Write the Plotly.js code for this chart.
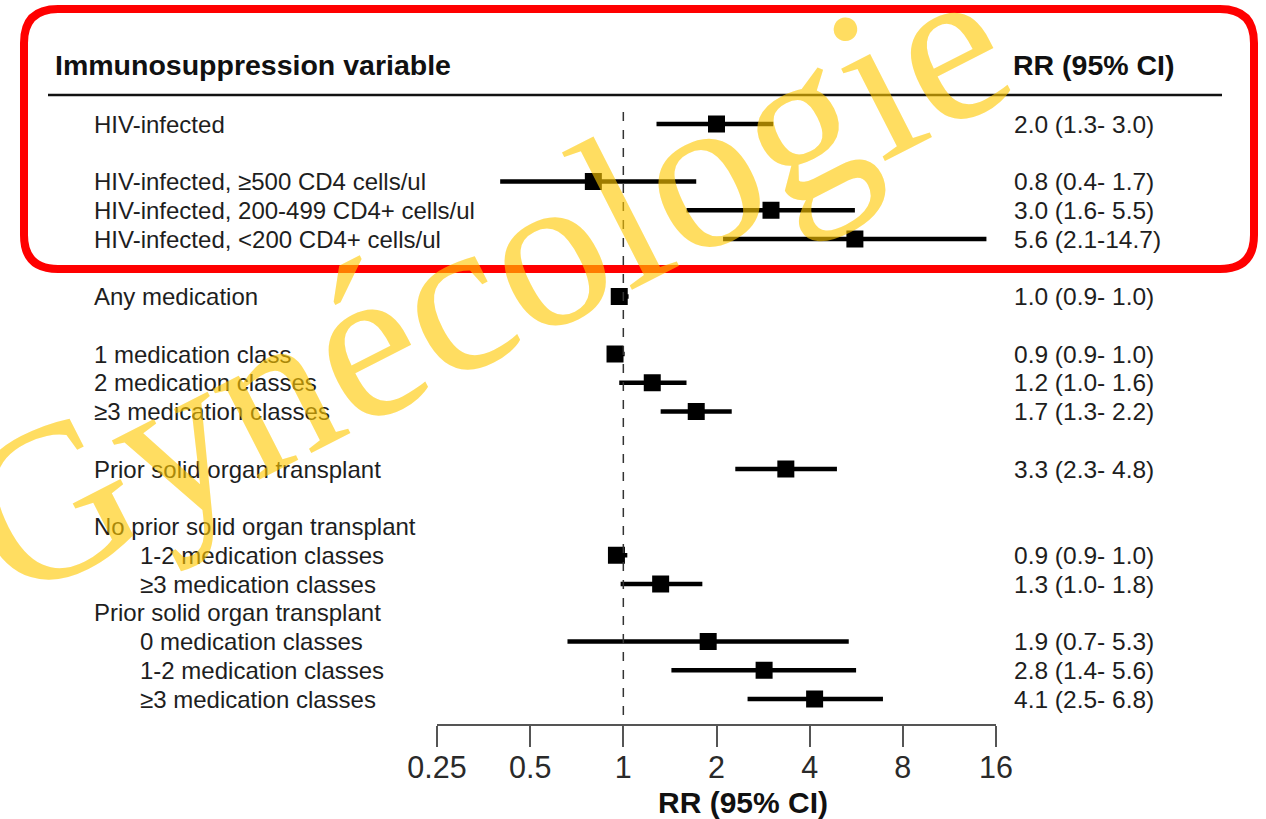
<!DOCTYPE html>
<html>
<head>
<meta charset="utf-8">
<script src="https://cdn.plot.ly/plotly-3.0.1.min.js"></script>
<style>html,body{margin:0;padding:0;background:#fff;}#chart{width:1266px;height:819px;}</style>
</head>
<body>
<div id="chart"></div>
<script>
// ---- data ----
const labels = ["HIV-infected", "HIV-infected, ≥500 CD4 cells/ul", "HIV-infected, 200-499 CD4+ cells/ul",
  "HIV-infected, <200 CD4+ cells/ul", "Any medication", "1 medication class", "2 medication classes",
  "≥3 medication classes", "Prior solid organ transplant", "No prior solid organ transplant",
  "1-2 medication classes", "≥3 medication classes", "Prior solid organ transplant",
  "0 medication classes", "1-2 medication classes", "≥3 medication classes"];
const rr = [2.0, 0.8, 3.0, 5.6, 0.97, 0.94, 1.24, 1.72, 3.35, null, 0.95, 1.32, null, 1.88, 2.85, 4.15];
const lo = [1.28, 0.4, 1.6, 2.1, 0.92, 0.89, 0.97, 1.32, 2.3, null, 0.9, 0.98, null, 0.66, 1.43, 2.52];
const hi = [3.05, 1.72, 5.6, 14.9, 1.04, 1.01, 1.6, 2.24, 4.9, null, 1.03, 1.8, null, 5.35, 5.65, 6.9];
const ciText = ["2.0 (1.3- 3.0)", "0.8 (0.4- 1.7)", "3.0 (1.6- 5.5)", "5.6 (2.1-14.7)", "1.0 (0.9- 1.0)",
  "0.9 (0.9- 1.0)", "1.2 (1.0- 1.6)", "1.7 (1.3- 2.2)", "3.3 (2.3- 4.8)", "",
  "0.9 (0.9- 1.0)", "1.3 (1.0- 1.8)", "", "1.9 (0.7- 5.3)", "2.8 (1.4- 5.6)", "4.1 (2.5- 6.8)"];
const tickVals = [0.25, 0.5, 1, 2, 4, 8, 16];
const tickText = ["0.25", "0.5", "1", "2", "4", "8", "16"];
const colHeaderLeft = "Immunosuppression variable";
const colHeaderRight = "RR (95% CI)";
const axisTitle = "RR (95% CI)";
const watermark = "Gynécologie";

// ---- layout helpers (positions only) ----
const rowPos = [0, 2, 3, 4, 6, 8, 9, 10, 12, 14, 15, 16, 17, 18, 19, 20];
const indent = [0, 0, 0, 0, 0, 0, 0, 0, 0, 0, 1, 1, 0, 1, 1, 1];
const W = 1266, H = 819;
const mL = 437, mR = 270, mT = 0, mB = 95;
const plotW = W - mL - mR, plotH = H - mT - mB;
const rowPx = 28.75, row0Px = 124;
const yTop = -row0Px / rowPx, yBot = (plotH - row0Px) / rowPx;
const pxX = p => (p - mL) / plotW;
const pxY = p => (plotH - p) / plotH;
const rowOf = p => (p - row0Px) / rowPx;

const FONT = "Liberation Sans, Arial, sans-serif";

// CI segments
const ciX = [], ciY = [];
rr.forEach((v, i) => { if (v !== null) { ciX.push(lo[i], hi[i], null); ciY.push(rowPos[i], rowPos[i], null); } });
const ptX = [], ptY = [];
rr.forEach((v, i) => { if (v !== null) { ptX.push(v); ptY.push(rowPos[i]); } });

const traces = [
  { type: "scatter", mode: "lines", x: ciX, y: ciY, line: { color: "#000", width: 4.5 }, hoverinfo: "skip", showlegend: false },
  { type: "scatter", mode: "markers", x: ptX, y: ptY, marker: { symbol: "square", size: 17, color: "#000", line: { width: 0 } }, showlegend: false }
];

const annotations = [];
labels.forEach((t, i) => {
  annotations.push({ xref: "paper", yref: "y", x: pxX(indent[i] ? 138 : 92), y: rowPos[i], xanchor: "left", yanchor: "middle",
    text: t, showarrow: false, font: { family: FONT, size: 24, color: "#1e1e1e" } });
  if (ciText[i]) annotations.push({ xref: "paper", yref: "y", x: pxX(1012), y: rowPos[i], xanchor: "left", yanchor: "middle",
    text: ciText[i], showarrow: false, font: { family: FONT, size: 24.5, color: "#1e1e1e" } });
});
annotations.push({ xref: "paper", yref: "y", x: pxX(53), y: rowOf(65), xanchor: "left", yanchor: "middle",
  text: "<b>" + colHeaderLeft + "</b>", showarrow: false, font: { family: FONT, size: 28.5, color: "#111" } });
annotations.push({ xref: "paper", yref: "y", x: pxX(1011), y: rowOf(65), xanchor: "left", yanchor: "middle",
  text: "<b>" + colHeaderRight + "</b>", showarrow: false, font: { family: FONT, size: 28.5, color: "#111" } });
annotations.push({ xref: "paper", yref: "paper", x: pxX(743), y: pxY(802), xanchor: "center", yanchor: "middle",
  text: "<b>" + axisTitle + "</b>", showarrow: false, font: { family: FONT, size: 30, color: "#111" } });
// watermark
annotations.push({ xref: "paper", yref: "paper", x: pxX(484), y: pxY(281), xanchor: "center", yanchor: "middle",
  text: watermark, textangle: -27, showarrow: false, font: { family: "Liberation Serif, Times New Roman, serif", size: 222, color: "rgba(255,200,0,0.62)" } });

// red rounded box
const bx0 = 24, bx1 = 1254, by0 = 9, by1 = 269, br = 34;
const P = (x, y) => pxX(x).toFixed(5) + "," + pxY(y).toFixed(5);
const boxPath = "M" + P(bx0 + br, by0) + " L" + P(bx1 - br, by0) + " Q" + P(bx1, by0) + " " + P(bx1, by0 + br) +
  " L" + P(bx1, by1 - br) + " Q" + P(bx1, by1) + " " + P(bx1 - br, by1) +
  " L" + P(bx0 + br, by1) + " Q" + P(bx0, by1) + " " + P(bx0, by1 - br) +
  " L" + P(bx0, by0 + br) + " Q" + P(bx0, by0) + " " + P(bx0 + br, by0) + " Z";

const shapes = [
  { type: "line", xref: "x", yref: "y", x0: 1, x1: 1, y0: rowOf(112), y1: yBot, line: { color: "#333", width: 1.5, dash: "dash" } },
  { type: "line", xref: "paper", yref: "y", x0: pxX(48), x1: pxX(1222), y0: rowOf(95), y1: rowOf(95), line: { color: "#111", width: 2.5 } },
  { type: "path", xref: "paper", yref: "paper", path: boxPath, line: { color: "#ff0000", width: 8 }, fillcolor: "rgba(0,0,0,0)" }
];

const layout = {
  width: W, height: H,
  margin: { l: mL, r: mR, t: mT, b: mB, pad: 0 },
  paper_bgcolor: "#fff", plot_bgcolor: "#fff",
  showlegend: false,
  xaxis: {
    type: "log", range: [Math.log10(0.25), Math.log10(16)],
    tickvals: tickVals, ticktext: tickText,
    showgrid: false, zeroline: false, showline: true, linecolor: "#555", linewidth: 2,
    ticks: "outside", ticklen: 21, tickwidth: 2, tickcolor: "#555", ticklabelstandoff: -6,
    tickfont: { family: FONT, size: 30.5, color: "#2a2a2a" }, fixedrange: true
  },
  yaxis: { range: [yBot, yTop], visible: false, showgrid: false, zeroline: false, fixedrange: true },
  shapes: shapes,
  annotations: annotations
};

Plotly.newPlot("chart", traces, layout, { displayModeBar: false, staticPlot: true });
</script>
</body>
</html>
